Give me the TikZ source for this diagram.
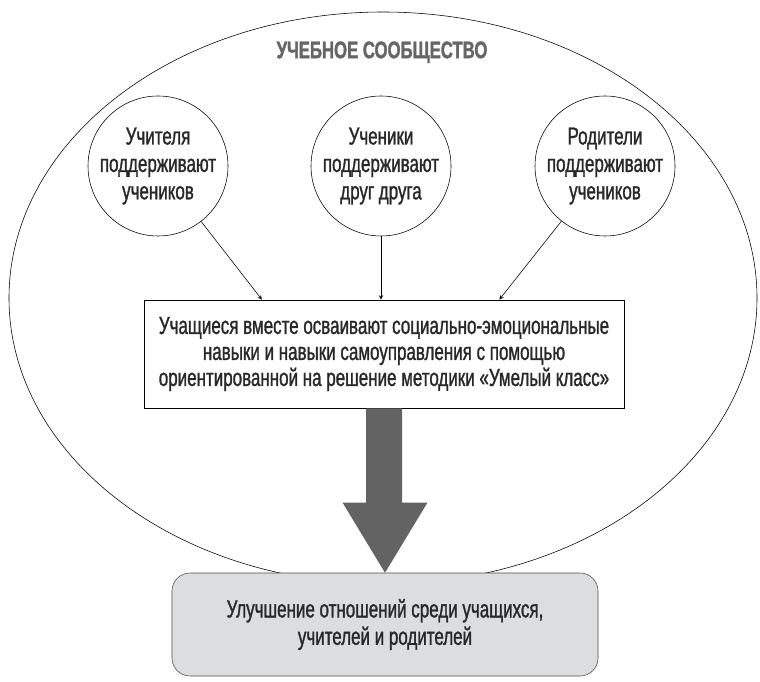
\documentclass[tikz,border=0pt]{standalone}
\usepackage{fontspec}
\setmainfont{Liberation Sans}[FakeStretch=0.69, FakeBold=1.2]
\newfontfamily\titlefont{Liberation Sans}[FakeStretch=0.70, FakeBold=1.5]
\usepackage{tikz}
\usetikzlibrary{shapes.geometric, arrows, calc}
\definecolor{textgray}{RGB}{40,40,40}
\definecolor{titlegray}{RGB}{102,102,102}
\definecolor{arrowgray}{RGB}{99,99,100}
\definecolor{resultgray}{RGB}{220,221,223}
\tikzstyle{member} = [circle, draw, thin, minimum size=3.5cm, inner sep=0pt, align=center, text=textgray, font=\fontsize{17.5}{19.5}\selectfont]
\tikzstyle{learn} = [rectangle, draw, semithick, minimum width=12cm, minimum height=2.7cm, align=center, text=textgray, font=\fontsize{17.5}{18.5}\selectfont]
\tikzstyle{result} = [rectangle, rounded corners=0.45cm, draw=black!70, fill=resultgray, minimum width=10.65cm, minimum height=2.575cm, align=center, text=textgray, font=\fontsize{17.5}{19.5}\selectfont]
\tikzstyle{arrow} = [thin,->,>=stealth]

\begin{document}
\begin{tikzpicture}
\useasboundingbox (0,0) rectangle (19,17.025);

% Community ellipse and its title
\draw[thin] (9.575,9.575) ellipse (9.35cm and 7.15cm);
\node[text=titlegray, font={\titlefont\bfseries\fontsize{17}{20}\selectfont}] (title) at (9.55,15.72) {УЧЕБНОЕ СООБЩЕСТВО};

% Three supporting groups
\node[member] (teachers) at (3.95,12.875) {Учителя\\поддерживают\\учеников};
\node[member] (pupils) at (9.525,12.875) {Ученики\\поддерживают\\друг друга};
\node[member] (parents) at (15.125,12.875) {Родители\\поддерживают\\учеников};

% Central learning box
\node[learn] (learning) at (9.6,8.175) {Учащиеся вместе осваивают социально-эмоциональные\\навыки и навыки самоуправления с помощью\\ориентированной на решение методики «Умелый класс»};

% Arrow ends on top of the box
\coordinate (inteachers) at ($(learning.north west)!0.246!(learning.north east)$);
\coordinate (inparents) at ($(learning.north west)!0.74!(learning.north east)$);

\draw[arrow] (teachers) -- (inteachers);
\draw[arrow] (pupils.south) -- (pupils.south |- learning.north);
\draw[arrow] (parents) -- (inparents);

% Outcome box
\node[result] (outcome) at (9.625,1.4125) {Улучшение отношений среди учащихся,\\учителей и родителей};

% Big arrow down to the outcome
\fill[arrowgray] ($(learning.south)+(-0.45,0)$) |- ($(outcome.north)+(-1.06,1.75)$) -- (outcome.north)
  -- ($(outcome.north)+(1.06,1.75)$) -| ($(learning.south)+(0.45,0)$) -- cycle;

\end{tikzpicture}
\end{document}
